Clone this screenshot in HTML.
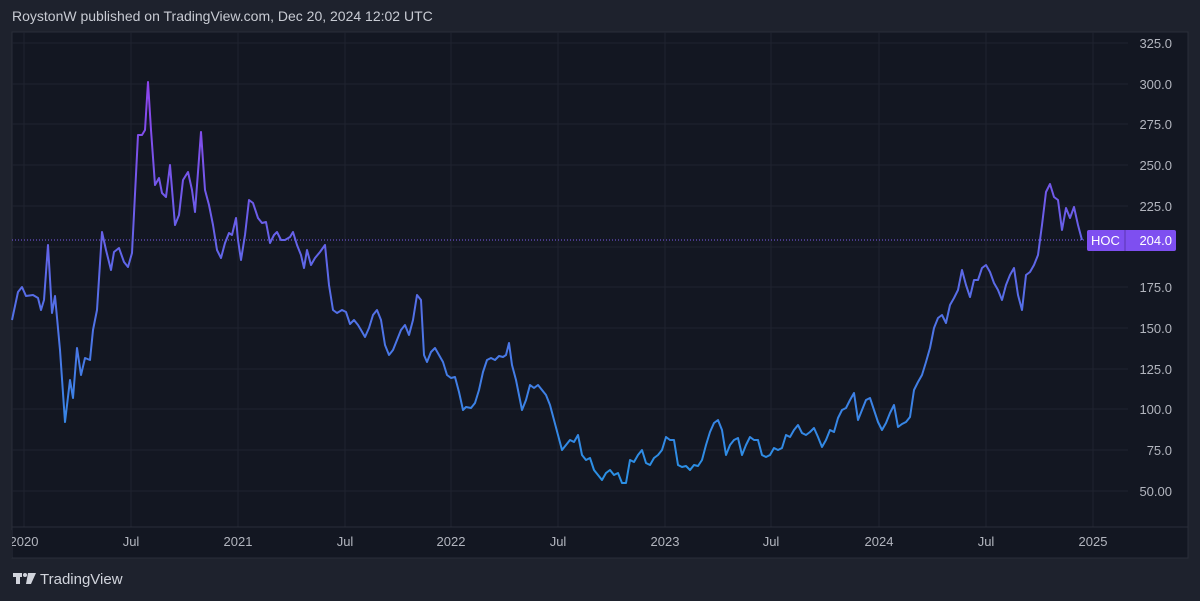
<!DOCTYPE html>
<html><head><meta charset="utf-8"><style>
body{margin:0;width:1200px;height:601px;background:#1e222d;overflow:hidden;font-family:"Liberation Sans",sans-serif;}
.hdr{position:absolute;left:12px;top:8px;color:#c8cbd3;font-size:14px;}
.ft{position:absolute;left:12px;top:570px;color:#d1d4dc;font-size:15px;}
</style></head><body>
<div class="hdr">RoystonW published on TradingView.com, Dec 20, 2024 12:02 UTC</div>
<svg style="position:absolute;left:0;top:0" width="1200" height="601">
<defs><linearGradient id="g" gradientUnits="userSpaceOnUse" x1="0" y1="90" x2="0" y2="470">
<stop offset="0" stop-color="#8c45ec"/><stop offset="0.5" stop-color="#5b6ae8"/><stop offset="1" stop-color="#2b8fe4"/></linearGradient></defs>
<rect x="12" y="32" width="1176" height="526" fill="#131722" stroke="#2a2e39"/>
<g stroke="#1f2330" stroke-width="1">
<line x1="24" y1="32" x2="24" y2="527"/><line x1="131" y1="32" x2="131" y2="527"/><line x1="238" y1="32" x2="238" y2="527"/><line x1="345" y1="32" x2="345" y2="527"/><line x1="451" y1="32" x2="451" y2="527"/><line x1="558" y1="32" x2="558" y2="527"/><line x1="665" y1="32" x2="665" y2="527"/><line x1="771" y1="32" x2="771" y2="527"/><line x1="879" y1="32" x2="879" y2="527"/><line x1="986" y1="32" x2="986" y2="527"/><line x1="1093" y1="32" x2="1093" y2="527"/>
<line x1="12" y1="43" x2="1128" y2="43"/><line x1="12" y1="84" x2="1128" y2="84"/><line x1="12" y1="124" x2="1128" y2="124"/><line x1="12" y1="165" x2="1128" y2="165"/><line x1="12" y1="206" x2="1128" y2="206"/><line x1="12" y1="247" x2="1128" y2="247"/><line x1="12" y1="287" x2="1128" y2="287"/><line x1="12" y1="328" x2="1128" y2="328"/><line x1="12" y1="369" x2="1128" y2="369"/><line x1="12" y1="409" x2="1128" y2="409"/><line x1="12" y1="450" x2="1128" y2="450"/><line x1="12" y1="491" x2="1128" y2="491"/>
</g>
<line x1="12" y1="527" x2="1188" y2="527" stroke="#2a2e39"/>
<line x1="12" y1="240" x2="1086" y2="240" stroke="#7e5bf0" stroke-dasharray="1,2"/>
<polyline fill="none" stroke="url(#g)" stroke-width="2" stroke-linejoin="round" points="12,320 18,292 22,287 26,296 33,295 38,298 41,310 44,300 48,245 52,313 55,296 60,350 65,422 70,380 73,398 77,348 81,375 85,358 90,360 93,330 97,310 102,232 106,250 111,270 114,252 119,248 124,262 128,267 132,253 138,135 142,135 145,130 148,82 151,130 155,185 159,178 162,193 166,197 170,165 175,225 179,215 183,180 188,172 192,190 195,212 201,132 205,190 209,205 213,225 217,250 221,258 225,243 229,233 232,235 236,218 238,240 241,260 245,235 249,200 253,203 258,218 262,223 266,222 270,243 274,235 277,232 281,240 285,240 290,237 293,232 297,245 301,255 304,268 307,250 311,265 315,258 320,252 325,245 329,285 333,310 337,313 342,310 346,312 350,324 354,320 358,325 361,330 365,337 369,328 373,315 377,310 381,320 385,345 389,355 393,350 397,340 401,330 405,325 409,335 413,320 417,295 421,300 424,355 427,362 431,352 435,348 439,355 443,362 447,375 451,378 455,377 459,392 463,410 466,407 471,408 475,403 479,390 483,372 487,360 491,358 495,360 499,356 503,357 506,355 509,343 512,365 516,380 519,395 522,410 526,400 530,385 534,388 538,385 542,390 546,395 550,405 554,420 558,435 562,450 566,445 570,440 574,442 578,435 582,455 586,460 590,458 594,470 598,475 602,480 606,473 610,470 614,475 618,473 622,483 626,483 630,460 634,462 638,455 642,450 646,463 650,465 654,458 658,455 662,450 666,437 670,440 674,440 678,465 682,467 686,466 690,470 694,465 698,466 702,460 706,445 710,432 714,423 718,420 722,430 726,455 730,445 734,440 738,438 742,455 746,445 750,437 754,440 758,440 762,455 766,457 770,455 774,448 778,450 782,448 786,435 790,437 794,430 798,425 802,433 806,435 810,432 814,428 818,437 822,447 826,440 830,430 834,432 838,418 842,410 846,408 850,400 854,393 858,420 862,410 866,400 870,398 874,410 878,422 882,430 886,423 890,413 894,405 898,427 902,424 906,422 910,417 914,390 918,382 922,375 926,362 930,348 934,328 938,318 942,315 946,323 950,305 954,298 958,290 962,270 966,285 970,297 974,280 978,280 982,268 986,265 990,272 994,283 998,290 1002,300 1006,285 1010,275 1014,268 1018,295 1022,310 1026,275 1030,272 1034,265 1038,255 1042,225 1046,192 1050,184 1054,197 1058,200 1062,230 1066,208 1070,218 1074,207 1078,225 1082,240"/>
<g fill="#b2b5be" font-size="13" text-anchor="end" font-family="Liberation Sans,sans-serif">
<text x="1172" y="48">325.0</text><text x="1172" y="89">300.0</text><text x="1172" y="129">275.0</text><text x="1172" y="170">250.0</text><text x="1172" y="211">225.0</text><text x="1172" y="292">175.0</text><text x="1172" y="333">150.0</text><text x="1172" y="374">125.0</text><text x="1172" y="414">100.0</text><text x="1172" y="455">75.0</text><text x="1172" y="496">50.00</text>
</g>
<rect x="1087" y="230" width="89" height="21" rx="2" fill="#7e4ff0"/>
<line x1="1125" y1="230" x2="1125" y2="251" stroke="#5a35b0"/>
<g fill="#fff" font-size="13" font-family="Liberation Sans,sans-serif"><text x="1091" y="245">HOC</text><text x="1172" y="245" text-anchor="end">204.0</text></g>
<g fill="#b2b5be" font-size="13" text-anchor="middle" font-family="Liberation Sans,sans-serif">
<text x="24" y="546">2020</text><text x="131" y="546">Jul</text><text x="238" y="546">2021</text><text x="345" y="546">Jul</text><text x="451" y="546">2022</text><text x="558" y="546">Jul</text><text x="665" y="546">2023</text><text x="771" y="546">Jul</text><text x="879" y="546">2024</text><text x="986" y="546">Jul</text><text x="1093" y="546">2025</text>
</g>
<rect x="0" y="530" width="12" height="28" fill="#1e222d"/>
<g fill="#d1d4dc"><rect x="13" y="573" width="9" height="4"/><rect x="16" y="573" width="4" height="11"/><circle cx="25" cy="575" r="2"/><polygon points="28,573 36,573 31,584 26,584"/></g>
</svg>
<div class="ft" style="left:40px;top:571px">TradingView</div>
</body></html>
